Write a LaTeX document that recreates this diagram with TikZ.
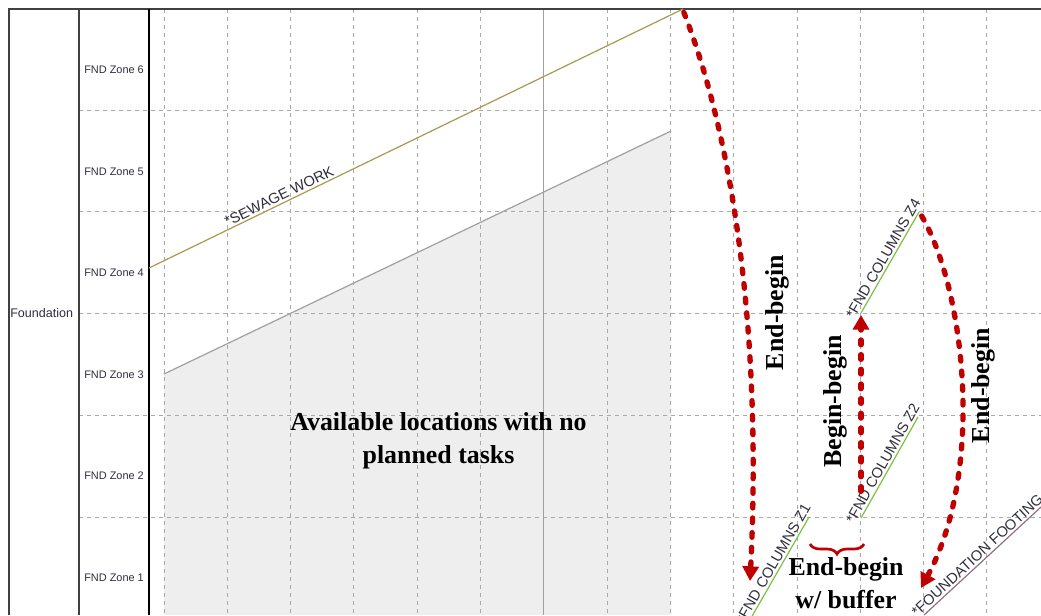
\documentclass[tikz,border=0pt]{standalone}
\usepackage{fontspec}
\setmainfont{Liberation Serif}
\newfontfamily\chartsans{Liberation Sans}
\usetikzlibrary{arrows.meta,decorations.pathreplacing}

\definecolor{gridgray}{HTML}{A8A8A8}
\definecolor{framegray}{HTML}{404040}
\definecolor{areagray}{HTML}{EEEEEE}
\definecolor{areaedge}{HTML}{A0A0A0}
\definecolor{sewage}{HTML}{A89A50}
\definecolor{columns}{HTML}{7CC242}
\definecolor{footing}{HTML}{8C7484}
\definecolor{linkred}{HTML}{C00000}
\definecolor{labelink}{HTML}{2E2E3C}

\begin{document}
\begin{tikzpicture}[x=0.75pt,y=-0.75pt,
  gridline/.style={gridgray, line width=0.75pt, dash pattern=on 3pt off 3pt},
  framerule/.style={framegray, line width=1.2pt},
  task/.style={line width=0.9pt},
  tasklabel/.style={font=\chartsans\fontsize{11}{13}\selectfont, text=labelink, sloped, above, inner sep=1.5pt},
  zonelabel/.style={font=\chartsans\fontsize{8.2}{10}\selectfont, text=labelink, anchor=west, inner sep=0pt},
  link/.style={linkred, line width=4pt, line cap=round, dash pattern=on 3.5pt off 7.5pt,
    -{Triangle[length=11pt,width=12pt]}},
  linklabel/.style={font=\bfseries\fontsize{19.4}{24.5}\selectfont, text=black, inner sep=0pt, align=center},
]
\useasboundingbox (0,0) rectangle (1041,615);
\fill[white] (0,0) rectangle (1041,615);

% locations without planned work
\fill[areagray] (164,374) -- (671,131) -- (671,615) -- (164,615) -- cycle;
\draw[areaedge, line width=0.9pt] (164,374) -- (671,131);

% time grid and zone rows
\foreach \k in {0,...,13} \draw[gridline] ({164+63.3*\k},9) -- ({164+63.3*\k},615);
\foreach \y in {110,211.5,313,415.5,517} \draw[gridline] (79,\y) -- (1041,\y);
\draw[areaedge, line width=1.1pt] (543.5,9) -- (543.5,615);

% table frame
\draw[framerule] (9,615) -- (9,9) -- (1041,9);
\draw[framerule] (79,9) -- (79,615);
\draw[black, line width=2pt] (149,9) -- (149,615);

% row headers
\node[font=\chartsans\fontsize{9.4}{11}\selectfont, text=labelink, anchor=west, inner sep=0pt] (found) at (10,313) {Foundation};
\foreach \i/\y in {6/70,5/172,4/273,3/375,2/476,1/578}
  \node[zonelabel] (zone\i) at (84,\y) {FND Zone \i};

% tasks
\coordinate (sw0) at (149,268);
\coordinate (sw1) at (683,9);
\draw[sewage, task] (sw0) -- node[tasklabel, pos=0.25] {*SEWAGE WORK} (sw1);

\coordinate (z4s) at (861,313);
\coordinate (z4e) at (919,212);
\draw[columns, task] (z4s) -- node[tasklabel] {*FND COLUMNS Z4} (z4e);

\coordinate (z2s) at (861,518);
\coordinate (z2e) at (918,417);
\draw[columns, task] (z2s) -- node[tasklabel] {*FND COLUMNS Z2} (z2e);

\coordinate (z1s) at (751,618);
\coordinate (z1e) at (809,517);
\draw[columns, task] (z1s) -- node[tasklabel] {*FND COLUMNS Z1} (z1e);

\coordinate (ffs) at (924,615);
\coordinate (ffe) at (1041,507);
\draw[footing, task] (ffs) -- node[tasklabel, pos=0.5] {*FOUNDATION FOOTING} (ffe);

% dependency links
\coordinate (t1) at (750,581);
\coordinate (t3) at (921,588);
\draw[link] ([shift={(0.6pt,-2.5pt)}]sw1) .. controls (734,140) and (762,340) .. (t1);
\draw[link] ([yshift=20pt]z2s) -- ([yshift=-1.5pt]z4s);
\draw[link] ([shift={(2pt,-3pt)}]z4e) .. controls (965,290) and (985,470) .. (t3);

\draw[linkred, line width=2pt, decorate, decoration={brace, mirror, amplitude=7.5pt}]
  (810,544) -- (864,544);

% annotations
\node[linklabel, rotate=90] (lab1) at (777,312.5) {End-begin};
\node[linklabel, rotate=90] (lab2) at (835,401.5) {Begin-begin};
\node[linklabel, rotate=90] (lab3) at (983,385.5) {End-begin};
\node[linklabel] (lab4) at (846,583) {End-begin\\w/ buffer};
\node[linklabel] (idle) at (438.5,441) {Available locations with no\\planned tasks};
\end{tikzpicture}
\end{document}
